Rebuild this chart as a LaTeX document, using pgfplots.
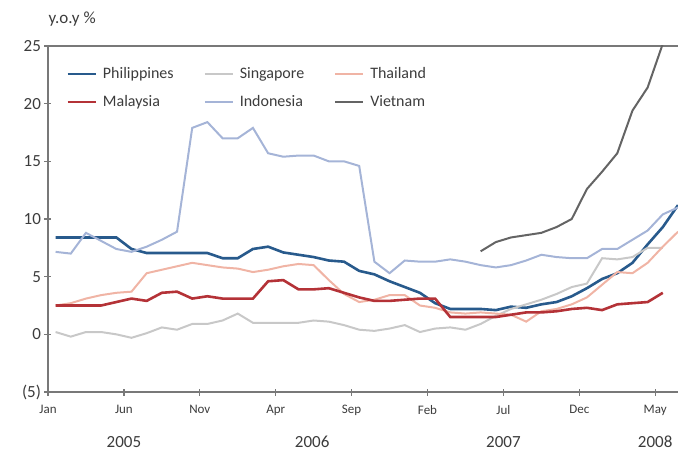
\documentclass[border=0pt]{standalone}
\usepackage{pgfplots}
\pgfplotsset{compat=1.18}
\usepackage{pgfplotstable}
\usepackage{fontspec}
\setmainfont{Carlito}
\definecolor{phl}{RGB}{40,90,140}
\definecolor{mys}{RGB}{180,50,55}
\definecolor{sgp}{RGB}{200,200,200}
\definecolor{idn}{RGB}{165,180,215}
\definecolor{tha}{RGB}{240,180,165}
\definecolor{vnm}{RGB}{100,100,100}
\definecolor{axc}{RGB}{120,120,120}
\definecolor{txt}{RGB}{60,60,60}
\pgfplotstableread{
x phl mys sgp idn tha vnm
0.5 8.4 2.5 0.2 7.15 2.5 nan
1.5 8.4 2.5 -0.2 7.0 2.7 nan
2.5 8.4 2.5 0.2 8.8 3.1 nan
3.5 8.4 2.5 0.2 8.1 3.4 nan
4.5 8.4 2.8 0.0 7.4 3.6 nan
5.5 7.4 3.1 -0.3 7.15 3.7 nan
6.5 7.05 2.9 0.1 7.6 5.3 nan
7.5 7.05 3.6 0.6 8.2 5.6 nan
8.5 7.05 3.7 0.4 8.9 5.9 nan
9.5 7.05 3.1 0.9 17.9 6.2 nan
10.5 7.05 3.3 0.9 18.4 6.0 nan
11.5 6.6 3.1 1.2 17.0 5.8 nan
12.5 6.6 3.1 1.8 17.0 5.7 nan
13.5 7.4 3.1 1.0 17.9 5.4 nan
14.5 7.6 4.6 1.0 15.7 5.6 nan
15.5 7.1 4.7 1.0 15.4 5.9 nan
16.5 6.9 3.9 1.0 15.5 6.1 nan
17.5 6.7 3.9 1.2 15.5 6.0 nan
18.5 6.4 4.0 1.1 15.0 4.7 nan
19.5 6.3 3.6 0.8 15.0 3.5 nan
20.5 5.5 3.2 0.4 14.6 2.8 nan
21.5 5.2 2.9 0.3 6.3 3.0 nan
22.5 4.6 2.9 0.5 5.3 3.4 nan
23.5 4.1 3.0 0.8 6.4 3.4 nan
24.5 3.6 3.1 0.2 6.3 2.5 nan
25.5 2.7 3.1 0.5 6.3 2.3 nan
26.5 2.2 1.5 0.6 6.5 1.9 nan
27.5 2.2 1.5 0.4 6.3 1.8 nan
28.5 2.2 1.5 0.9 6.0 1.9 7.2
29.5 2.1 1.5 1.6 5.8 1.8 8.0
30.5 2.4 1.7 2.2 6.0 1.7 8.4
31.5 2.3 1.9 2.6 6.4 1.1 8.6
32.5 2.6 1.9 3.0 6.9 2.0 8.8
33.5 2.8 2.0 3.5 6.7 2.2 9.3
34.5 3.3 2.2 4.1 6.6 2.6 10.0
35.5 4.0 2.3 4.4 6.6 3.2 12.6
36.5 4.8 2.1 6.6 7.4 4.3 14.1
37.5 5.3 2.6 6.5 7.4 5.4 15.7
38.5 6.2 2.7 6.7 8.2 5.3 19.4
39.5 7.8 2.8 7.5 9.0 6.2 21.4
40.5 9.3 3.6 7.5 10.4 7.6 25.2
41.5 11.2 nan nan 11.0 8.9 26.8
}\datatable
\begin{document}
\begin{tikzpicture}
\begin{axis}[
  scale only axis, width=630bp, height=346bp,
  xmin=0, xmax=41.5, ymin=-5, ymax=25,
  separate axis lines,
  axis x line*=box, axis y line*=left,
  axis line style={axc, line width=1.6bp},
  xtick={0,5,10,15,20,25,30,35,40},
  xticklabels={Jan,Jun,Nov,Apr,Sep,Feb,Jul,Dec,May},
  xtick pos=bottom,
  ytick={-5,0,5,10,15,20,25},
  yticklabels={(5),0,5,10,15,20,25},
  ytick pos=left,
  tick align=center, major tick length=7bp,
  tick style={axc, line width=1.2bp},
  /pgf/number format/assume math mode=true,
  x tick label style={font=\fontsize{13bp}{15bp}\selectfont, text=txt, yshift=-6bp},
  y tick label style={font=\fontsize{17bp}{19bp}\selectfont, text=txt},
  unbounded coords=jump,
  clip mode=individual,
  legend columns=3,
  legend cell align=left,
  legend image code/.code={\draw[#1] (0bp,0bp) -- (28bp,0bp);},
  legend style={draw=none, fill=none, at={(axis cs:1.0,23.6)}, anchor=north west,
    font=\fontsize{16bp}{18bp}\selectfont, text=txt,
    nodes={inner sep=2bp, text height=12bp, text depth=3bp},
    /tikz/every odd column/.append style={column sep=4bp},
    /tikz/every even column/.append style={column sep=28bp},
    row sep=9bp},
]
\addplot[phl, line width=2.6bp] table[x=x,y=phl]{\datatable};
\addlegendentry{Philippines}
\addplot[sgp, line width=2bp] table[x=x,y=sgp]{\datatable};
\addlegendentry{Singapore}
\addplot[tha, line width=2bp] table[x=x,y=tha]{\datatable};
\addlegendentry{Thailand}
\addplot[mys, line width=2.6bp] table[x=x,y=mys]{\datatable};
\addlegendentry{Malaysia}
\addplot[idn, line width=2bp] table[x=x,y=idn]{\datatable};
\addlegendentry{Indonesia}
\addplot[vnm, line width=2bp] table[x=x,y=vnm]{\datatable};
\addlegendentry{Vietnam}
\coordinate (ll) at (rel axis cs:0,0);
\coordinate (ur) at (rel axis cs:1,1);
\node[anchor=base west, font=\fontsize{17bp}{19bp}\selectfont, text=txt] at ([shift={(-3bp,22bp)}]rel axis cs:0,1) {y.o.y \%};
\node[anchor=base, font=\fontsize{17bp}{19bp}\selectfont, text=txt] at ([yshift=-55bp]axis cs:5,-5) {2005};
\node[anchor=base, font=\fontsize{17bp}{19bp}\selectfont, text=txt] at ([yshift=-55bp]axis cs:17.4,-5) {2006};
\node[anchor=base, font=\fontsize{17bp}{19bp}\selectfont, text=txt] at ([yshift=-55bp]axis cs:30,-5) {2007};
\node[anchor=base, font=\fontsize{17bp}{19bp}\selectfont, text=txt] at ([yshift=-55bp]axis cs:40,-5) {2008};
\end{axis}
\pgfresetboundingbox
\path ([shift={(-48bp,-59bp)}]ll) rectangle ([shift={(0bp,46bp)}]ur);
\end{tikzpicture}
\end{document}
